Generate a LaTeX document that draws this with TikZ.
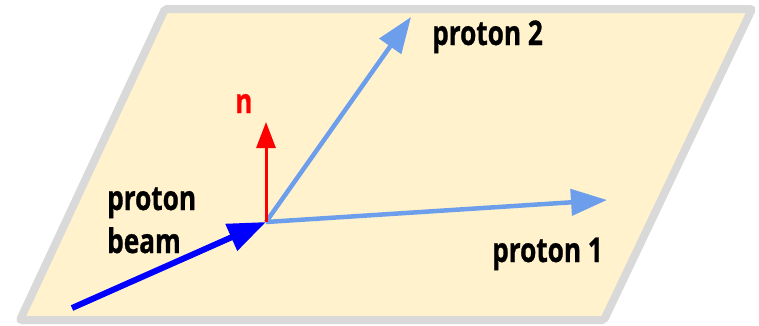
\documentclass[tikz,border=0pt]{standalone}
\usepackage{fontspec}
\setmainfont[FakeStretch=0.77,BoldFeatures={FakeBold=0.8}]{Open Sans}
\usetikzlibrary{arrows.meta}
\definecolor{plane}{HTML}{FFF2CC}
\definecolor{planeedge}{HTML}{D9D9D9}
\definecolor{lightblue}{HTML}{6D9EEB}
\begin{document}
\begin{tikzpicture}[x=1pt,y=-1pt,
  lbl/.style={font=\bfseries\fontsize{34}{43}\selectfont, text=black, inner sep=0pt},
  beamarrow/.style={draw=blue, line width=6pt, -{Triangle[length=38pt,width=28pt]}},
  protarrow/.style={draw=lightblue, line width=4.5pt, -{Triangle[length=36pt,width=26pt]}},
  narrow/.style={draw=red, line width=3pt, -{Triangle[length=26pt,width=19pt]}}]
\useasboundingbox (0,0) rectangle (759,325);
\draw[fill=plane, draw=planeedge, line width=8pt, rounded corners=2pt]
  (20,320) -- (165,9) -- (752,9) -- (604,320) -- cycle;
\coordinate (o) at (266,222);
\coordinate (beamstart) at (72,308);
\coordinate (p2) at (411,17);
\coordinate (p1) at (607,200);
\coordinate (nend) at (266,122);
\draw[protarrow] (o) -- (p2);
\draw[protarrow] (o) -- (p1);
\draw[narrow] (266,222) -- (nend);
\draw[beamarrow] (beamstart) -- (o);
\node[lbl, anchor=base west] (l2) at (432,45) {proton 2};
\node[lbl, anchor=base west] (l1) at (492,262) {proton 1};
\node[lbl, anchor=base west, align=left] (lb) at (107,253) {proton\\beam};
\node[lbl, text=red, anchor=base west] (ln) at (235,113) {n};
\end{tikzpicture}
\end{document}
